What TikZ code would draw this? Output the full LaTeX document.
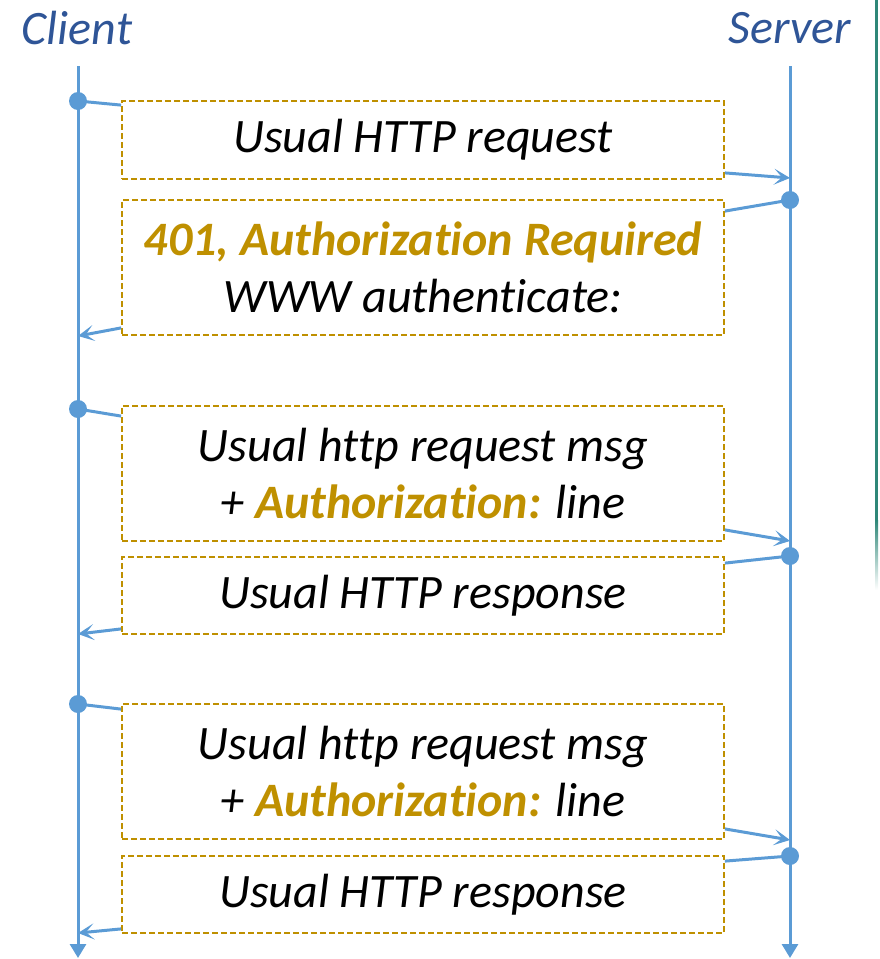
\documentclass[tikz,border=0pt]{standalone}
\usepackage{fontspec}
\setmainfont[Ligatures={NoCommon,NoRequired,NoContextual}]{Carlito}
\usetikzlibrary{arrows.meta,calc}
\definecolor{lifeblue}{RGB}{91,155,213}
\definecolor{titleblue}{RGB}{47,85,151}
\definecolor{hdrgold}{RGB}{191,144,0}
\definecolor{edgeteal}{RGB}{46,135,120}
\newcommand{\hl}[1]{{\bfseries\color{hdrgold}#1}}
\begin{document}
\begin{tikzpicture}[x=1pt,y=-1pt,
  life/.style={draw=lifeblue,line width=3pt},
  msg/.style={draw=lifeblue,line width=3pt,
    -{Stealth[length=16pt,width=16pt,inset=8pt]}},
  tick/.style={draw=lifeblue,line width=3pt},
  dot/.style={circle,fill=lifeblue,inner sep=0pt,minimum size=18pt},
  actor/.style={font=\fontsize{48}{56}\selectfont\itshape,text=titleblue,inner sep=0pt},
  msgbox/.style={draw=hdrgold,line width=1.8pt,dash pattern=on 6pt off 3pt,
    minimum width=602pt,inner sep=0pt,align=center,
    font=\fontsize{48}{57}\selectfont\itshape}]
\useasboundingbox (0,0) rectangle (879,959);

% slide edge accent on the right
\fill[edgeteal] (875,0) rectangle (878,520);
\shade[top color=edgeteal,bottom color=white] (875,520) rectangle (878,590);

% actors
\node[actor] (client) at (77,28) {Client};
\node[actor] (server) at (790,28) {Server};

% lifelines
\coordinate (ctop) at (78,66);
\coordinate (cbot) at (78,958);
\coordinate (stop) at (790,66);
\coordinate (sbot) at (790,958);
\draw[life,-{Triangle[length=14pt,width=16pt]}] (ctop) -- (cbot);
\draw[life,-{Triangle[length=14pt,width=16pt]}] (stop) -- (sbot);

% message boxes
\node[msgbox,minimum height=78pt] (b1) at (423,140) {Usual HTTP request};
\node[msgbox,minimum height=135pt] (b2) at (423,267.5)
  {\hl{401, Authorization Required}\\WWW authenticate:};
\node[msgbox,minimum height=135pt] (b3) at (423,473.5)
  {Usual http request msg\\+ \hl{Authorization:} line};
\node[msgbox,minimum height=77pt] (b4) at (423,595.5) {Usual HTTP response};
\node[msgbox,minimum height=135pt] (b5) at (423,771.5)
  {Usual http request msg\\+ \hl{Authorization:} line};
\node[msgbox,minimum height=77pt] (b6) at (423,894.5) {Usual HTTP response};

% send / receive points on the lifelines
\node[dot] (c1) at (78,101) {};
\node[dot] (s1) at (790,200) {};
\node[dot] (c2) at (78,409) {};
\node[dot] (s2) at (790,556) {};
\node[dot] (c3) at (78,704) {};
\node[dot] (s3) at (790,856) {};
\coordinate (a1) at (790,178);
\coordinate (a2) at (78,336);
\coordinate (a3) at (790,541);
\coordinate (a4) at (78,634);
\coordinate (a5) at (790,840);
\coordinate (a6) at (78,933);

% connectors
\draw[tick] (c1.center) -- ($(b1.north west)+(0,5)$);
\draw[msg] ($(b1.south east)+(0,-7)$) -- (a1);
\draw[tick] (s1.center) -- ($(b2.north east)+(0,12)$);
\draw[msg] ($(b2.south west)+(0,-8)$) -- (a2);
\draw[tick] (c2.center) -- ($(b3.north west)+(0,11)$);
\draw[msg] ($(b3.south east)+(0,-12)$) -- (a3);
\draw[tick] (s2.center) -- ($(b4.north east)+(0,7)$);
\draw[msg] ($(b4.south west)+(0,-6)$) -- (a4);
\draw[tick] (c3.center) -- ($(b5.north west)+(0,6)$);
\draw[msg] ($(b5.south east)+(0,-11)$) -- (a5);
\draw[tick] (s3.center) -- ($(b6.north east)+(0,6)$);
\draw[msg] ($(b6.south west)+(0,-5)$) -- (a6);
\end{tikzpicture}
\end{document}
